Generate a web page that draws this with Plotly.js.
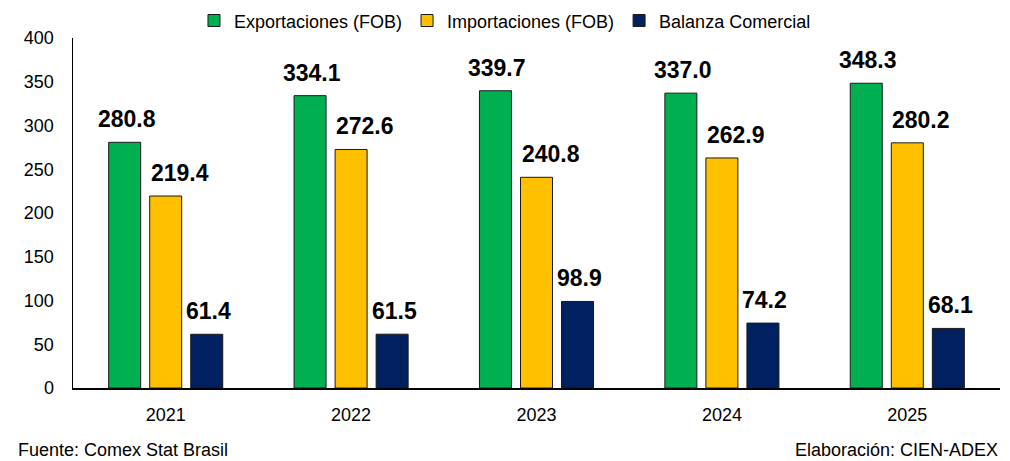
<!DOCTYPE html>
<html>
<head>
<meta charset="utf-8">
<script src="https://cdn.plot.ly/plotly-3.0.1.min.js"></script>
<style>html,body{margin:0;padding:0;background:#fff;overflow:hidden}#chart{width:1010px;height:461px}</style>
</head>
<body>
<div id="chart"></div>
<script>
const years = ["2021", "2022", "2023", "2024", "2025"];
const exportaciones = [280.8, 334.1, 339.7, 337.0, 348.3];
const importaciones = [219.4, 272.6, 240.8, 262.9, 280.2];
const balanza = [61.4, 61.5, 98.9, 74.2, 68.1];
const seriesNames = ["Exportaciones (FOB)", "Importaciones (FOB)", "Balanza Comercial"];
const colors = ["#00B050", "#FFC000", "#002060"];
const fuente = "Fuente: Comex Stat Brasil";
const elaboracion = "Elaboración: CIEN-ADEX";

const font = "Arial, 'Liberation Sans', sans-serif";
const bargap = 0.336;
const labelXShift = [2, 14, 2];
const allSeries = [exportaciones, importaciones, balanza];
const data = allSeries.map((vals, i) => ({
  type: "bar",
  name: seriesNames[i],
  x: years,
  y: vals,
  marker: {color: colors[i], line: {color: "#1a1a1a", width: 1}},
  hoverinfo: "skip"
}));

// value labels placed above each bar, positioned from the bar grouping in data units
const slot = (1 - bargap) / allSeries.length;
const labelAnns = [];
allSeries.forEach((vals, k) => {
  vals.forEach((v, i) => {
    labelAnns.push({
      x: i + (k - (allSeries.length - 1) / 2) * slot, y: v,
      xref: "x", yref: "y", xanchor: "center", yanchor: "bottom", yshift: 8, xshift: labelXShift[k],
      text: v.toFixed(1), showarrow: false,
      font: {family: font, size: 23, color: "#000", weight: "bold"}
    });
  });
});

const layout = {
  width: 1010, height: 461,
  margin: {l: 73, r: 10, t: 38, b: 73, autoexpand: false},
  paper_bgcolor: "#fff", plot_bgcolor: "#fff",
  font: {family: font, size: 18, color: "#000"},
  barmode: "group",
  bargap: bargap,
  bargroupgap: 0.22,
  showlegend: true,
  legend: {orientation: "h", x: 0.466, xanchor: "center", yref: "container", y: 0.995, yanchor: "top",
           font: {family: font, size: 18, color: "#000"}, traceorder: "normal"},
  xaxis: {type: "category", showline: true, linecolor: "#000", linewidth: 1.5,
          ticks: "", showgrid: false, zeroline: false, ticklabelstandoff: 10,
          tickfont: {family: font, size: 18, color: "#000"}},
  yaxis: {range: [0, 400], dtick: 50, showline: true, linecolor: "#000", linewidth: 1.5,
          ticks: "", showgrid: false, zeroline: false, ticklabelstandoff: 14,
          tickfont: {family: font, size: 18, color: "#000"}},
  annotations: labelAnns.concat([
    {text: fuente, xref: "paper", yref: "paper", x: -0.062, y: -0.177, xanchor: "left", yanchor: "middle",
     showarrow: false, font: {family: font, size: 18, color: "#000"}},
    {text: elaboracion, xref: "paper", yref: "paper", x: 1.0, y: -0.177, xanchor: "right", yanchor: "middle",
     showarrow: false, font: {family: font, size: 18, color: "#000"}}
  ])
};

Plotly.newPlot("chart", data, layout, {displayModeBar: false, staticPlot: true});
</script>
</body>
</html>
